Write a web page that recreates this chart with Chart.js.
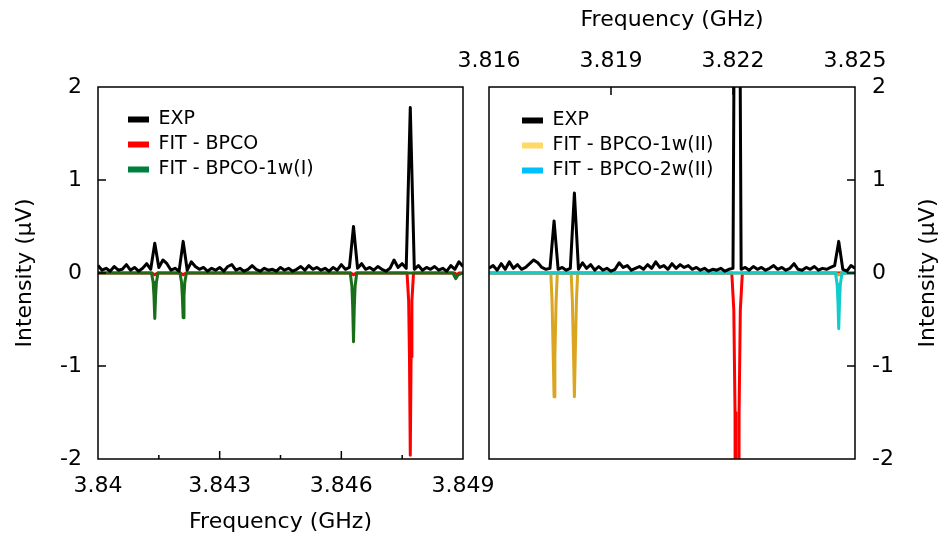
<!DOCTYPE html>
<html>
<head>
<meta charset="utf-8">
<title>BPCO spectra</title>
<script src="https://cdn.jsdelivr.net/npm/chart.js@4.4.1/dist/chart.umd.min.js"></script>
<style>
  html, body { margin: 0; padding: 0; background: #fff; }
  #wrap { position: relative; width: 944px; height: 536px; overflow: hidden; }
  #leftChart { position: absolute; left: 0; top: 0; }
  #rightChart { position: absolute; left: 440px; top: 0; }
</style>
</head>
<body>
<div id="wrap">
  <canvas id="leftChart" width="510" height="536"></canvas>
  <canvas id="rightChart" width="504" height="536"></canvas>
</div>
<script>
// ---- values (GHz / microvolt) ----

// left panel: measured trace, one sample every 0.1 MHz from 3.840 GHz
const expStartL = 3.840;
const expStepL = 0.0001;
const expIntL = [
  0.08, 0.03, 0.05, 0.02, 0.07, 0.03, 0.04, 0.09, 0.03, 0.06,
  0.02, 0.05, 0.10, 0.04, 0.32, 0.06, 0.14, 0.10, 0.03, 0.05,
  0.02, 0.34, 0.03, 0.12, 0.07, 0.04, 0.06, 0.02, 0.05, 0.03,
  0.06, 0.02, 0.07, 0.09, 0.03, 0.05, 0.02, 0.04, 0.08, 0.04,
  0.02, 0.05, 0.03, 0.04, 0.02, 0.06, 0.03, 0.05, 0.02, 0.04,
  0.07, 0.03, 0.08, 0.04, 0.06, 0.03, 0.05, 0.02, 0.06, 0.03,
  0.09, 0.04, 0.06, 0.50, 0.05, 0.10, 0.04, 0.06, 0.03, 0.07,
  0.04, 0.02, 0.05, 0.14, 0.06, 0.10, 0.05, 1.78, 0.04, 0.08,
  0.03, 0.06, 0.04, 0.07, 0.03, 0.05, 0.02, 0.08, 0.04, 0.12,
  0.07
];
// FIT - BPCO (left)
const fitBpcoFreqL = [3.8400, 3.84133, 3.8414, 3.84147, 3.84203, 3.8421, 3.84217, 3.84623, 3.8463, 3.84637,
  3.84762, 3.84766, 3.84768, 3.8477, 3.84772, 3.84774, 3.84778, 3.8488, 3.84885, 3.8489, 3.8490];
const fitBpcoIntL = [0, 0, -0.02, 0, 0, -0.02, 0, 0, -0.02, 0,
  0, -0.3, -0.9, -1.96, -0.9, -0.3, 0, 0, -0.02, 0, 0];
// FIT - BPCO-1w(I)
const fit1wIFreq = [3.8400, 3.84132, 3.84136, 3.84138, 3.8414, 3.84142, 3.84144, 3.84148,
  3.84202, 3.84206, 3.84208, 3.8421, 3.84212, 3.84214, 3.84218,
  3.84622, 3.84626, 3.84628, 3.8463, 3.84632, 3.84634, 3.84638,
  3.84875, 3.84882, 3.84888, 3.8490];
const fit1wIInt = [0, 0, -0.1, -0.25, -0.49, -0.25, -0.1, 0,
  0, -0.1, -0.25, -0.48, -0.25, -0.1, 0,
  0, -0.14, -0.36, -0.74, -0.36, -0.14, 0,
  0, -0.06, -0.02, 0];

// right panel: measured trace, one sample every 0.1 MHz from 3.816 GHz
const expStartR = 3.816;
const expStepR = 0.0001;
const expIntR = [
  0.05, 0.08, 0.03, 0.10, 0.04, 0.12, 0.05, 0.09, 0.04, 0.06,
  0.10, 0.14, 0.11, 0.06, 0.04, 0.05, 0.56, 0.04, 0.06, 0.03,
  0.05, 0.86, 0.04, 0.11, 0.05, 0.09, 0.03, 0.07, 0.03, 0.05,
  0.02, 0.04, 0.11, 0.06, 0.08, 0.03, 0.05, 0.07, 0.04, 0.09,
  0.05, 0.12, 0.06, 0.08, 0.04, 0.10, 0.05, 0.09, 0.06, 0.08,
  0.04, 0.06, 0.03, 0.05, 0.02, 0.04, 0.03, 0.05, 0.02, 0.04,
  0.05, 9.00, 0.04, 0.06, 0.03, 0.07, 0.04, 0.06, 0.03, 0.05,
  0.08, 0.04, 0.06, 0.03, 0.05, 0.10, 0.04, 0.03, 0.06, 0.04,
  0.07, 0.03, 0.05, 0.04, 0.06, 0.08, 0.34, 0.04, 0.02, 0.08,
  0.05
];
// FIT - BPCO (right, not in that legend)
const fitBpcoFreqR = [3.8160, 3.82197, 3.82202, 3.82205, 3.82207, 3.82213, 3.82215, 3.82218, 3.82223, 3.8250];
const fitBpcoIntR = [0, 0, -0.4, -1.5, -8, -8, -1.5, -0.4, 0, 0];
// FIT - BPCO-1w(II)
const fit1wIIFreq = [3.8160, 3.81752, 3.81755, 3.81758, 3.8176, 3.81762, 3.81765, 3.81768,
  3.81802, 3.81805, 3.81808, 3.8181, 3.81812, 3.81815, 3.81818,
  3.82452, 3.8246, 3.82468, 3.8250];
const fit1wIIInt = [0, 0, -0.3, -0.9, -1.33, -0.9, -0.3, 0,
  0, -0.3, -0.9, -1.33, -0.9, -0.3, 0,
  0, -0.02, 0, 0];
// FIT - BPCO-2w(II)
const fit2wIIFreq = [3.8160, 3.82452, 3.82456, 3.82458, 3.8246, 3.82462, 3.82464, 3.82468, 3.8250];
const fit2wIIInt = [0, 0, -0.12, -0.3, -0.6, -0.3, -0.12, 0, 0];

// axes
const xTicksL = [3.840, 3.843, 3.846, 3.849];
const xTickLabelsL = ['3.84', '3.843', '3.846', '3.849'];
const xTicksR = [3.816, 3.819, 3.822, 3.825];
const xTickLabelsR = ['3.816', '3.819', '3.822', '3.825'];
const yTicks = [-2, -1, 0, 1, 2];
const yTickLabels = ['-2', '-1', '0', '1', '2'];

// ---- helpers ----
const FONT = '"DejaVu Sans", Verdana, sans-serif';
const tickFont = { family: FONT, size: 22 };
const titleFont = { family: FONT, size: 22 };

function sampled(start, step, vals) {
  return vals.map((v, i) => ({ x: start + i * step, y: v }));
}
function paired(xs, ys) {
  return xs.map((x, i) => ({ x: x, y: ys[i] }));
}
function line(label, data, color, legendColor, order, hide) {
  return {
    label: label, data: data, borderColor: color, backgroundColor: legendColor,
    borderWidth: 3, pointRadius: 0, tension: 0, fill: false,
    borderJoinStyle: 'round', order: order, clip: 0, hideInLegend: !!hide
  };
}

// frame, inward tick marks, legend placement inside the plot
function panelDecor(cfg) {
  return {
    id: 'panelDecor',
    afterLayout(chart) {
      const lg = chart.legend, a = chart.chartArea;
      if (!lg) return;
      lg.left = a.left + cfg.legendDx;
      lg.top = a.top + cfg.legendDy;
      lg.right = a.right;
      lg.bottom = a.bottom;
      lg.width = lg.right - lg.left;
      lg.height = lg.bottom - lg.top;
    },
    afterDraw(chart) {
      const { ctx, chartArea: a } = chart;
      const x = chart.scales.x, y = chart.scales.y;
      ctx.save();
      ctx.strokeStyle = '#000';
      ctx.lineWidth = 1.5;
      ctx.strokeRect(a.left, a.top, a.right - a.left, a.bottom - a.top);
      ctx.beginPath();
      cfg.xMarks.forEach(m => {
        const px = x.getPixelForValue(m[0]);
        const y0 = cfg.xSide === 'bottom' ? a.bottom : a.top;
        const d = cfg.xSide === 'bottom' ? -m[1] : m[1];
        ctx.moveTo(px, y0); ctx.lineTo(px, y0 + d);
      });
      cfg.yMarks.forEach(m => {
        const py = y.getPixelForValue(m[0]);
        const x0 = cfg.ySide === 'left' ? a.left : a.right;
        const d = cfg.ySide === 'left' ? m[1] : -m[1];
        ctx.moveTo(x0, py); ctx.lineTo(x0 + d, py);
      });
      ctx.stroke();
      if (cfg.sideTitle) {
        // right axis title reads bottom-to-top like the left one
        ctx.translate(cfg.sideTitle.x, (a.top + a.bottom) / 2);
        ctx.rotate(-Math.PI / 2);
        ctx.fillStyle = '#000';
        ctx.font = '22px ' + FONT;
        ctx.textAlign = 'center';
        ctx.textBaseline = 'middle';
        ctx.fillText(cfg.sideTitle.text, 0, 0);
      }
      ctx.restore();
    }
  };
}

const legendOpts = () => ({
  display: true,
  position: 'chartArea',
  align: 'start',
  labels: {
    color: '#000',
    font: { family: FONT, size: 19 },
    boxWidth: 21,
    boxHeight: 6,
    padding: 6,
    filter: (item, data) => !data.datasets[item.datasetIndex].hideInLegend,
    sort: (a, b) => a.datasetIndex - b.datasetIndex,
    generateLabels: (chart) => Chart.defaults.plugins.legend.labels.generateLabels(chart).map(l => {
      l.fillStyle = chart.data.datasets[l.datasetIndex].backgroundColor;
      l.strokeStyle = 'rgba(0,0,0,0)';
      l.lineWidth = 0;
      return l;
    })
  }
});

function xAxis(pos, ticksV, ticksL, height, pad, titlePad) {
  return {
    type: 'linear', position: pos, min: ticksV[0], max: ticksV[ticksV.length - 1],
    afterBuildTicks: s => { s.ticks = ticksV.map(v => ({ value: v })); },
    afterFit: s => { s.height = height; s.paddingLeft = 0; s.paddingRight = 0; },
    grid: { display: false, drawTicks: false },
    border: { display: false },
    ticks: { color: '#000', font: tickFont, padding: pad, autoSkip: false, maxRotation: 0,
             callback: v => ticksL[ticksV.findIndex(t => Math.abs(t - v) < 1e-9)] },
    title: { display: true, text: 'Frequency (GHz)', color: '#000', font: titleFont, padding: titlePad }
  };
}
function yAxis(pos, width, pad, withTitle) {
  return {
    type: 'linear', position: pos, min: -2, max: 2,
    afterBuildTicks: s => { s.ticks = yTicks.map(v => ({ value: v })); },
    afterFit: s => { s.width = width; s.paddingTop = 0; s.paddingBottom = 0; },
    grid: { display: false, drawTicks: false },
    border: { display: false },
    ticks: { color: '#000', font: tickFont, padding: pad, autoSkip: false,
             callback: v => yTickLabels[yTicks.indexOf(v)] },
    title: { display: withTitle, text: 'Intensity (\u03BCV)', color: '#000', font: titleFont, padding: { top: 12, bottom: 0 } }
  };
}

// ---- left panel ----
new Chart(document.getElementById('leftChart'), {
  type: 'line',
  data: {
    datasets: [
      line('EXP', sampled(expStartL, expStepL, expIntL), '#000000', '#000000', 0),
      line('FIT - BPCO', paired(fitBpcoFreqL, fitBpcoIntL), '#ff0000', '#ff0000', 2),
      line('FIT - BPCO-1w(I)', paired(fit1wIFreq, fit1wIInt), '#1a6e1a', '#00803f', 1)
    ]
  },
  options: {
    responsive: false,
    animation: false,
    layout: { padding: { left: 0, right: 47, top: 87, bottom: 0 } },
    scales: {
      x: xAxis('bottom', xTicksL, xTickLabelsL, 77, 14, { top: 0, bottom: 1 }),
      y: yAxis('left', 98, 16, true)
    },
    plugins: { legend: legendOpts(), tooltip: { enabled: false } }
  },
  plugins: [panelDecor({
    legendDx: 24, legendDy: 17,
    xSide: 'bottom', xMarks: [[3.843, 8], [3.846, 8], [3.8415, 4], [3.8445, 4], [3.8475, 4]],
    ySide: 'left', yMarks: [[1, 8], [0, 8], [-1, 8]]
  })]
});

// ---- right panel ----
new Chart(document.getElementById('rightChart'), {
  type: 'line',
  data: {
    datasets: [
      line('EXP', sampled(expStartR, expStepR, expIntR), '#000000', '#000000', 0),
      line('FIT - BPCO', paired(fitBpcoFreqR, fitBpcoIntR), '#ff0000', '#ff0000', 3, true),
      line('FIT - BPCO-1w(II)', paired(fit1wIIFreq, fit1wIIInt), '#daa520', '#ffd966', 2),
      line('FIT - BPCO-2w(II)', paired(fit2wIIFreq, fit2wIIInt), '#10cccc', '#00bfff', 1)
    ]
  },
  options: {
    responsive: false,
    animation: false,
    layout: { padding: { left: 49, right: 0, top: 0, bottom: 77 } },
    scales: {
      x: xAxis('top', xTicksR, xTickLabelsR, 87, 13, { top: 7, bottom: 0 }),
      y: yAxis('right', 89, 17, false)
    },
    plugins: { legend: legendOpts(), tooltip: { enabled: false } }
  },
  plugins: [panelDecor({
    legendDx: 27, legendDy: 18,
    xSide: 'top', xMarks: [[3.819, 8], [3.822, 8]],
    ySide: 'right', yMarks: [[1, 8], [0, 8], [-1, 8]],
    sideTitle: { x: 488, text: 'Intensity (\u03BCV)' }
  })]
});
</script>
</body>
</html>
